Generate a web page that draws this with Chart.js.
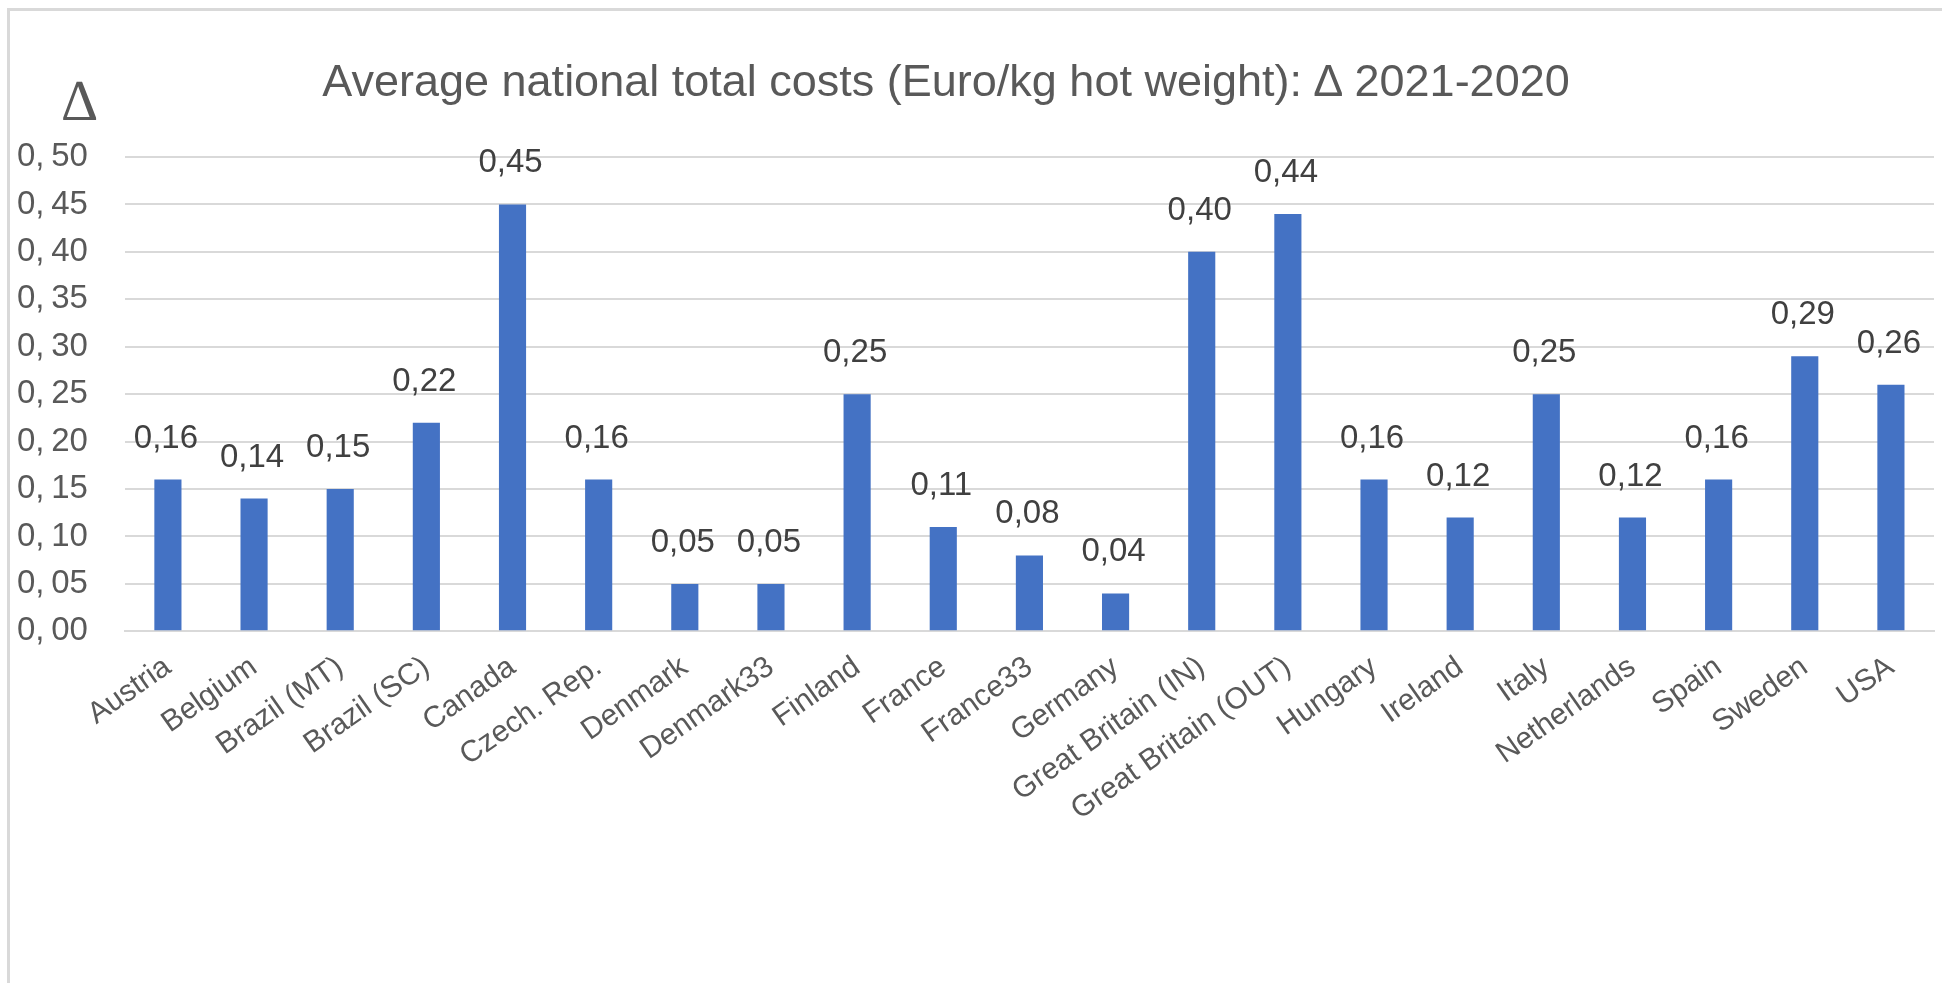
<!DOCTYPE html>
<html>
<head>
<meta charset="utf-8">
<script src="https://cdn.jsdelivr.net/npm/chart.js@4.4.1/dist/chart.umd.min.js"></script>
<style>
  html, body { margin: 0; padding: 0; background: #fff; overflow: hidden; }
  #frame {
    position: absolute; left: 7px; top: 8px; width: 2000px; height: 1100px;
    border: 3px solid #d9d9d9; box-sizing: border-box;
  }
  #wrap { position: absolute; left: 0; top: 0; width: 1942px; height: 983px; }
</style>
</head>
<body>
<div id="frame"></div>
<div id="wrap"><canvas id="chart" width="1942" height="983"></canvas></div>
<script>
const countries = [
  "Austria", "Belgium", "Brazil (MT)", "Brazil (SC)", "Canada", "Czech. Rep.",
  "Denmark", "Denmark33", "Finland", "France", "France33", "Germany",
  "Great Britain (IN)", "Great Britain (OUT)", "Hungary", "Ireland", "Italy",
  "Netherlands", "Spain", "Sweden", "USA",
];
const deltaCosts = [
  0.16, 0.14, 0.15, 0.22, 0.45, 0.16,
  0.05, 0.05, 0.25, 0.11, 0.08, 0.04,
  0.40, 0.44, 0.16, 0.12, 0.25,
  0.12, 0.16, 0.29, 0.26,
];
const yMax = 0.5;
const yStep = 0.05;
const titleText = "Average national total costs (Euro/kg hot weight): \u2206 2021-2020";

const fmt = (v) => v.toFixed(2).replace(".", ",");
const FONT = "'Liberation Sans', Arial, sans-serif";

// title, value labels above bars and the delta symbol over the y axis
const labelsPlugin = {
  id: "barLabels",
  afterDatasetsDraw(chart) {
    const ctx = chart.ctx;
    const meta = chart.getDatasetMeta(0);
    ctx.save();
    ctx.fillStyle = "#404040";
    ctx.font = `33px ${FONT}`;
    ctx.textAlign = "center";
    ctx.textBaseline = "alphabetic";
    meta.data.forEach((bar, i) => {
      ctx.fillText(fmt(deltaCosts[i]), bar.x - 2, bar.y - 32);
    });

    const y = chart.scales.y;
    ctx.fillStyle = "#595959";
    ctx.font = `58px 'Liberation Serif', serif`;
    ctx.fillText("\u2206", y.right - 45, y.top - 37);

    ctx.font = `45px ${FONT}`;
    ctx.fillText(titleText, chart.width / 2 - 25, y.top - 61);
    ctx.restore();
  },
};

new Chart(document.getElementById("chart"), {
  type: "bar",
  data: {
    labels: countries,
    datasets: [
      {
        data: deltaCosts,
        backgroundColor: "#4472c4",
        categoryPercentage: 1,
        barPercentage: 0.315,
      },
    ],
  },
  options: {
    responsive: false,
    animation: false,
    layout: { autoPadding: false, padding: { left: 17, right: 8, top: 157, bottom: 137 } },
    plugins: {
      legend: { display: false },
      tooltip: { enabled: false },
      title: { display: false },
    },
    scales: {
      x: {
        grid: { display: false, drawTicks: false },
        border: { display: true, color: "#d9d9d9", width: 2 },
        ticks: {
          color: "#595959",
          font: { family: FONT, size: 30 },
          autoSkip: false,
          minRotation: 35,
          maxRotation: 35,
          padding: 18,
        },
        afterFit: (scale) => {
          scale.paddingLeft = 0;
          scale.paddingRight = 0;
        },
      },
      y: {
        min: 0,
        max: yMax,
        grid: { color: "#d9d9d9", lineWidth: 2, drawTicks: false },
        border: { display: false },
        ticks: {
          stepSize: yStep,
          color: "#595959",
          font: { family: FONT, size: 33 },
          padding: 37,
          callback: (v) => fmt(v).replace(",", ",\u2009"),
        },
        afterFit: (scale) => {
          // chart.js reserves the tick padding twice; keep it once
          scale.width -= scale.options.ticks.padding;
          scale.paddingTop = 0;
          scale.paddingBottom = 0;
        },
      },
    },
  },
  plugins: [labelsPlugin],
});
</script>
</body>
</html>
